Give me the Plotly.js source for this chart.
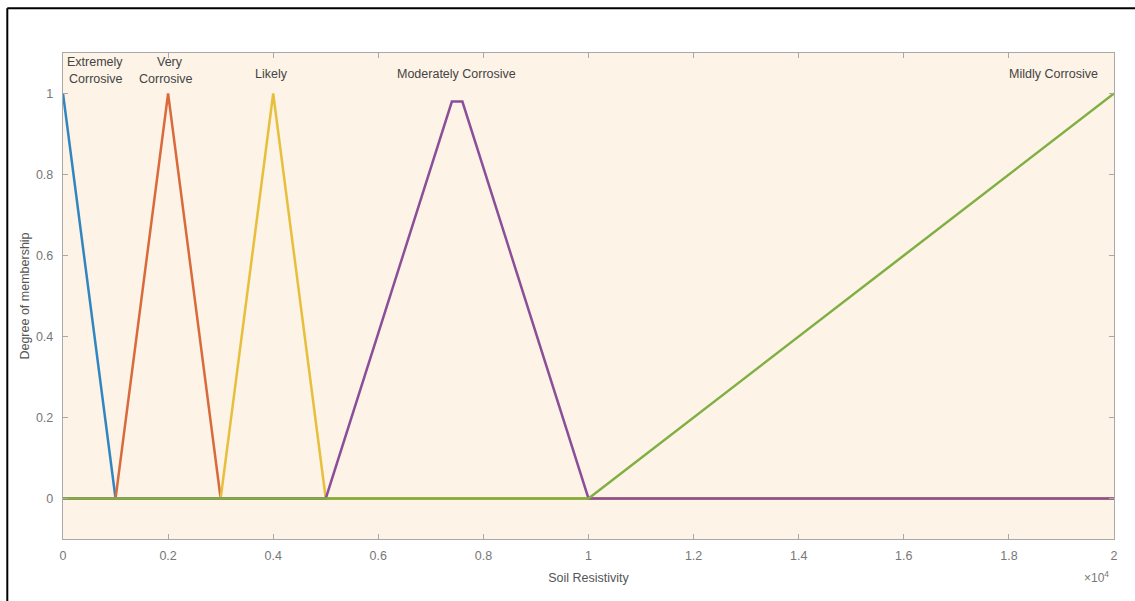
<!DOCTYPE html>
<html>
<head>
<meta charset="utf-8">
<script src="https://cdn.plot.ly/plotly-3.0.1.min.js"></script>
<style>html,body{margin:0;padding:0;background:#fff;}#chart{width:1135px;height:601px;}</style>
</head>
<body>
<div id="chart"></div>
<script>
// Membership functions (Soil Resistivity vs degree of membership)
const extremelyX = [0, 1000, 20000];
const extremelyY = [1, 0, 0];
const veryX = [0, 1000, 2000, 3000, 20000];
const veryY = [0, 0, 1, 0, 0];
const likelyX = [0, 3000, 4000, 5000, 20000];
const likelyY = [0, 0, 1, 0, 0];
const moderatelyX = [0, 5000, 7400, 7600, 10000, 20000];
const moderatelyY = [0, 0, 0.98, 0.98, 0, 0];
const mildlyX = [0, 10000, 20000];
const mildlyY = [0, 0, 1];

const xTickVals = [0, 2000, 4000, 6000, 8000, 10000, 12000, 14000, 16000, 18000, 20000];
const xTickText = ["0", "0.2", "0.4", "0.6", "0.8", "1", "1.2", "1.4", "1.6", "1.8", "2"];
const yTickVals = [0, 0.2, 0.4, 0.6, 0.8, 1];
const yTickText = ["0", "0.2", "0.4", "0.6", "0.8", "1"];

const labelText = ["Extremely", "Corrosive", "Very", "Corrosive", "Likely", "Moderately Corrosive", "Mildly Corrosive"];
const labelX = [610, 620, 2030, 1960, 3970, 7490, 18840];
const labelY = [1.079, 1.035, 1.079, 1.035, 1.047, 1.047, 1.047];

const colors = ["#2f86c0", "#d96a3c", "#e8bf3a", "#8a4f98", "#80b044"];
const series = [
  [extremelyX, extremelyY], [veryX, veryY], [likelyX, likelyY],
  [moderatelyX, moderatelyY], [mildlyX, mildlyY]
];
const traces = series.map((s, i) => ({
  x: s[0], y: s[1], type: 'scatter', mode: 'lines',
  line: {color: colors[i], width: 2.5}, hoverinfo: 'skip', showlegend: false
}));

const FONT = 'Liberation Sans, Arial, sans-serif';
const annotations = labelText.map((t, i) => ({
  x: labelX[i], y: labelY[i], xref: 'x', yref: 'y', text: t, showarrow: false,
  font: {family: FONT, size: 12.5, color: '#444'},
  xanchor: 'center', yanchor: 'middle'
}));
annotations.push({
  xref: 'paper', yref: 'paper', x: 0.997, y: -0.078, text: '\u00d710<sup>4</sup>',
  showarrow: false, xanchor: 'right', yanchor: 'middle',
  font: {family: FONT, size: 12, color: '#777'}
});

const axisCommon = {
  showgrid: false, zeroline: false, showline: true, mirror: 'allticks',
  linecolor: '#a8a8a8', linewidth: 1.2, ticks: 'inside', ticklen: 5,
  tickcolor: '#a8a8a8', tickwidth: 1,
  tickfont: {family: FONT, size: 12.5, color: '#777'}
};

const layout = {
  width: 1135, height: 601,
  margin: {l: 63, r: 21, t: 53, b: 62},
  paper_bgcolor: '#ffffff', plot_bgcolor: '#fdf3e7',
  xaxis: Object.assign({}, axisCommon, {
    range: [0, 20000], tickmode: 'array', tickvals: xTickVals, ticktext: xTickText,
    ticklabelstandoff: 5,
    title: {text: 'Soil Resistivity', standoff: 11,
      font: {family: FONT, size: 12.5, color: '#555'}}
  }),
  yaxis: Object.assign({}, axisCommon, {
    range: [-0.1, 1.1], tickmode: 'array', tickvals: yTickVals, ticktext: yTickText,
    ticklabelstandoff: 6,
    title: {text: 'Degree of membership', standoff: 3,
      font: {family: FONT, size: 12.5, color: '#555'}}
  }),
  annotations: annotations,
  shapes: [
    {type: 'line', xref: 'paper', yref: 'paper', x0: -0.053, x1: 1.02, y0: 1.092, y1: 1.092,
     line: {color: '#000', width: 2}},
    {type: 'line', xref: 'paper', yref: 'paper', x0: -0.053, x1: -0.053, y0: 1.092, y1: -0.13,
     line: {color: '#000', width: 2}}
  ]
};

Plotly.newPlot('chart', traces, layout, {staticPlot: true, displayModeBar: false});
</script>
</body>
</html>
